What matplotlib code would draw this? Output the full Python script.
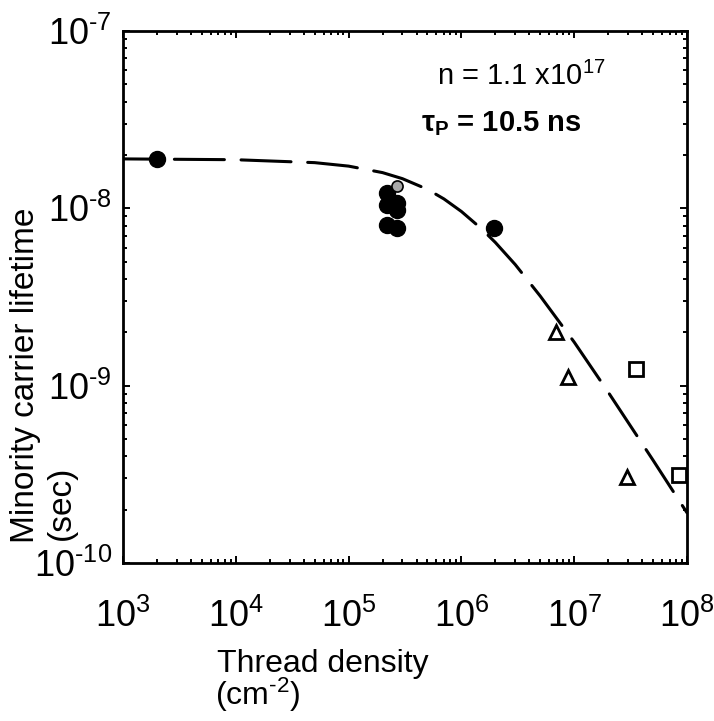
import matplotlib
matplotlib.use('Agg')
import matplotlib.pyplot as plt
from matplotlib.ticker import LogLocator, FuncFormatter, NullFormatter
import numpy as np

circle_density = [2.0e3, 2.2e5, 2.7e5, 2.2e5, 2.7e5, 2.2e5, 2.7e5, 1.96e6]
circle_lifetime = [1.9e-8, 1.22e-8, 1.07e-8, 1.04e-8, 9.8e-9, 8.05e-9, 7.7e-9, 7.74e-9]
gray_density = [2.7e5]
gray_lifetime = [1.34e-8]
triangle_density = [6.9e6, 8.75e6, 2.92e7]
triangle_lifetime = [2.01e-9, 1.12e-9, 3.06e-10]
square_density = [3.5e7, 8.55e7]
square_lifetime = [1.24e-9, 3.13e-10]

# Fitted curve, points
fit_density = [1e3, 1e4, 5e4, 1e5, 2e5, 3e5, 5e5, 7e5, 1e6, 1.5e6, 2e6, 3e6,
               5e6, 1e7, 2e7, 5e7, 1e8]
fit_lifetime = [1.90e-8, 1.88e-8, 1.81e-8, 1.73e-8, 1.59e-8, 1.47e-8, 1.28e-8,
                1.13e-8, 9.6e-9, 7.69e-9, 6.42e-9, 4.82e-9, 3.2e-9, 1.76e-9,
                9.2e-10, 3.8e-10, 1.92e-10]

plt.rcParams['font.family'] = ['Liberation Sans', 'DejaVu Sans']
plt.rcParams['mathtext.fontset'] = 'custom'
plt.rcParams['mathtext.rm'] = 'Liberation Sans'
plt.rcParams['mathtext.it'] = 'Liberation Sans:italic'
plt.rcParams['mathtext.bf'] = 'Liberation Sans:bold'
plt.rcParams['axes.unicode_minus'] = False
plt.rcParams['lines.scale_dashes'] = False

fig = plt.figure(figsize=(7.14, 7.21), dpi=100)
ax = fig.add_axes([123 / 714, 1 - 563 / 721, 564 / 714, 532 / 721])

ax.plot(fit_density, fit_lifetime, color='black', lw=2.2,
        linestyle=(11, (36, 12)), dash_capstyle='round', zorder=2)
ax.plot(circle_density, circle_lifetime, 'o', color='black', ms=11.5,
        mec='black', zorder=3)
ax.plot(gray_density, gray_lifetime, 'o', color='#a8a8a8', ms=8,
        mec='black', mew=1.2, zorder=4)
ax.plot(triangle_density, triangle_lifetime, '^', mfc='white', mec='black',
        mew=2.0, ms=9.5, zorder=3)
ax.plot(square_density, square_lifetime, 's', mfc='white', mec='black',
        mew=2.0, ms=9.5, zorder=3)

ax.set_xscale('log')
ax.set_yscale('log')
ax.set_xlim(1e3, 1e8)
ax.set_ylim(1e-10, 1e-7)


def pow_label(v, pos):
    e = int(round(np.log10(v)))
    if e < 0:
        return r'$\mathdefault{10^{\text{-%d}}}$' % -e
    return r'$\mathdefault{10^{%d}}$' % e


for axis in (ax.xaxis, ax.yaxis):
    axis.set_major_locator(LogLocator(base=10, numticks=20))
    axis.set_minor_locator(LogLocator(base=10, subs=np.arange(2, 10), numticks=100))
    axis.set_major_formatter(FuncFormatter(pow_label))
    axis.set_minor_formatter(NullFormatter())

for s in ax.spines.values():
    s.set_linewidth(2.0)
ax.tick_params(which='both', direction='in', top=True, right=True,
               width=1.4, colors='black')
ax.tick_params(which='major', length=5)
ax.tick_params(which='minor', length=3)
ax.tick_params(axis='x', which='major', labelsize=26, pad=26)
ax.tick_params(axis='y', which='major', labelsize=26, pad=8)

# axis titles, two lines each, left-aligned
fig.text(217 / 714, 1 - 672 / 721, 'Thread density', ha='left',
         va='baseline', fontsize=23)
fig.text(215 / 714, 1 - 705 / 721, '(cm$^{\\text{-2}}$)', ha='left',
         va='baseline', fontsize=23)
fig.text(10 / 714, 1 - 543 / 721, 'Minority carrier lifetime', rotation=90,
         ha='left', va='bottom', fontsize=24)
fig.text(46 / 714, 1 - 540 / 721, '(sec)', rotation=90,
         ha='left', va='bottom', fontsize=24)

fig.text(521 / 714, 1 - 85 / 721, 'n = 1.1 x10$^{17}$', ha='center',
         va='baseline', fontsize=21)
fig.text(501 / 714, 1 - 131 / 721, r'$\mathbf{\tau_{P}}$ = 10.5 ns',
         ha='center', va='baseline', fontsize=21, fontweight='bold')

fig.savefig('out.png', dpi=100)
